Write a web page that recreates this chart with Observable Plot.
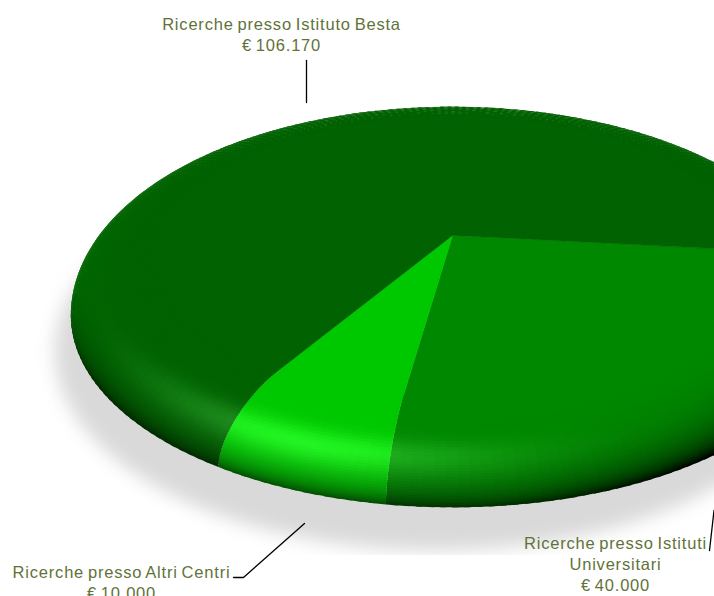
<!DOCTYPE html>
<html>
<head>
<meta charset="utf-8">
<script src="https://cdn.jsdelivr.net/npm/d3@7"></script>
<script src="https://cdn.jsdelivr.net/npm/@observablehq/plot@0.6"></script>
<style>
  html, body { margin: 0; padding: 0; background: #fff; }
  svg { display: block; }
</style>
</head>
<body>
<div id="chart"></div>
<script>
// Funding split, clockwise from just below the east direction.
const sliceNames = ["Ricerche presso Istituti Universitari", "Ricerche presso Altri Centri", "Ricerche presso Istituto Besta"];
const sliceValues = [40000, 10000, 106170];
const sliceGreens = [[0, 136, 0], [0, 200, 0], [0, 98, 0]];
const startAngle = -6;

// Label blocks: lines of text, centre and first line position, in page pixels.
const labelLines = [
  ["Ricerche presso Istituti", "Universitari"],
  ["Ricerche presso Altri Centri"],
  ["Ricerche presso Istituto Besta"]
];
const labelAnchors = [[615, 543], [121, 572], [281, 24]];
const lineGap = 21;

const leaders = [
  [[713.5, 510], [709, 550]],
  [[233, 577], [243, 577], [304, 523]],
  [[306, 60], [306, 102]]
];

// Camera and solid: perspective disc with a rounded rim.
const cam = {cx: 452, cy: 235, A: 374, B: 176, C: 41.5, k: 0.2, r0: 0.78};
const rad = d => d * Math.PI / 180;

function project(r, deg, drop) {
  const u = r * Math.cos(rad(deg)), v = r * Math.sin(rad(deg)), w = 1 + cam.k * v;
  return {x: cam.cx + cam.A * u / w, y: cam.cy - (cam.B * v - drop) / w};
}

const smooth = (a, b, t) => { const q = Math.min(1, Math.max(0, (t - a) / (b - a))); return q * q * (3 - 2 * q); };

// Colour of the rim at bevel position s (0 inner, 1 outer) and angle deg.
function shade(base, s, deg) {
  const c = Math.cos(rad(deg)), n = Math.sin(rad(deg));
  const t = Math.asin(Math.min(1, s)) / (Math.PI / 2);
  const front = smooth(-0.05, 0.6, -n), right = smooth(0, 0.8, c);
  let mult = 1 + 0.1 * s * s * s * Math.max(0, -c);
  mult -= Math.pow(t, 3.5) * (0.5 * front + 0.1 * front * right);
  mult -= Math.pow(t, 3) * 0.35 * front * right;
  mult -= Math.pow(t, 10) * 0.2;
  const delta = ((deg + 110) % 360 + 540) % 360 - 180;
  const spec = Math.exp(-Math.pow((s - 0.76) / 0.16, 2)) * Math.exp(-Math.pow(delta / 27, 2));
  const ch = (i, add) => Math.round(Math.min(255, Math.max(0, base[i] * mult + add * spec)));
  return `rgb(${ch(0, 34)},${ch(1, 52)},${ch(2, 34)})`;
}

const total = d3.sum(sliceValues);
const wedgeRows = [], quadRows = [];
let angle = startAngle, nextId = 0;
const bevelSteps = 40;
const ringAt = j => {
  const phi = Math.min(1, j / bevelSteps) * Math.PI / 2, s = Math.sin(phi);
  return {s, r: cam.r0 + (1 - cam.r0) * s, drop: cam.C * (1 - Math.cos(phi))};
};
sliceValues.forEach((value, i) => {
  const span = value / total * 360;
  const steps = Math.ceil(span / 1.5);
  const a0 = angle, da = span / steps;
  // flat top of the slice, running a little under the rim
  const id = nextId++;
  const flat = d3.rgb(...sliceGreens[i]).formatRgb();
  wedgeRows.push({id, ...project(0, a0, 0), color: flat});
  for (let t = 0; t <= steps; t++) wedgeRows.push({id, ...project(cam.r0 + 0.02, a0 - t * da, 0), color: flat});
  // rounded rim as small cells; each cell laps under the next one so no seams open
  for (let t = 0; t < steps; t++) {
    const d0 = a0 - t * da, d1 = a0 - (t + 1) * da;
    const d1Lap = a0 - Math.min(steps, t + 1.5) * da;
    for (let j = 0; j < bevelSteps; j++) {
      const p = ringAt(j), q = ringAt(j + 1), qLap = ringAt(j + 1.5);
      const exact = [project(p.r, d0, p.drop), project(q.r, d0, q.drop), project(q.r, d1, q.drop), project(p.r, d1, p.drop)];
      if (d3.polygonArea(exact.map(o => [o.x, o.y])) >= 0) continue;
      const corners = [project(p.r, d0, p.drop), project(qLap.r, d0, qLap.drop), project(qLap.r, d1Lap, qLap.drop), project(p.r, d1Lap, p.drop)];
      const color = shade(sliceGreens[i], (p.s + q.s) / 2, (d0 + d1) / 2);
      const qid = nextId++;
      corners.forEach(o => quadRows.push({id: qid, ...o, color}));
    }
  }
  angle -= span;
});

// Ground shadow: the same outline lowered onto the floor and pushed left.
const shadowRows = d3.range(0, 360, 3).map(d => {
  const o = project(1, d, 76);
  return {x: o.x - 16, y: o.y};
});

// Text rows
const euro = d3.formatLocale({thousands: ".", decimal: ",", grouping: [3], currency: ["€ ", ""]}).format(",");
const textRows = [];
labelLines.forEach((lines, i) => {
  const all = [...lines, "€ " + euro(sliceValues[i])];
  all.forEach((text, j) => textRows.push({text, x: labelAnchors[i][0], y: labelAnchors[i][1] + j * lineGap}));
});
const leaderRows = leaders.flatMap((path, id) => path.map(([x, y]) => ({id, x, y})));

const chart = Plot.plot({
  width: 714, height: 596,
  margin: 0,
  x: {domain: [0, 714], range: [0, 714], axis: null},
  y: {domain: [0, 596], range: [0, 596], axis: null},
  style: {background: "#fff", letterSpacing: "0.8px", wordSpacing: "-1.5px"},
  marks: [
    Plot.line(shadowRows, {x: "x", y: "y", fill: "#d9d9d9", stroke: "none", curve: "linear-closed", imageFilter: "blur(9px)"}),
    Plot.rect([{y1: 555, y2: 596}], {x1: 0, x2: 714, y1: "y1", y2: "y2", fill: "#fff"}),
    Plot.line(wedgeRows, {x: "x", y: "y", z: "id", fill: "color", stroke: "color", strokeWidth: 0.5, curve: "linear-closed"}),
    Plot.line(quadRows, {x: "x", y: "y", z: "id", fill: "color", stroke: "none", curve: "linear-closed", imageFilter: "blur(0.6px)"}),
    Plot.line(leaderRows, {x: "x", y: "y", z: "id", stroke: "#000", strokeWidth: 1.3, curve: "linear"}),
    Plot.text(textRows, {x: "x", y: "y", text: "text", fill: "#5f7339", fontSize: 16.5, fontFamily: "Liberation Sans", textAnchor: "middle", lineAnchor: "middle"})
  ]
});
document.getElementById("chart").append(chart);
</script>
</body>
</html>
